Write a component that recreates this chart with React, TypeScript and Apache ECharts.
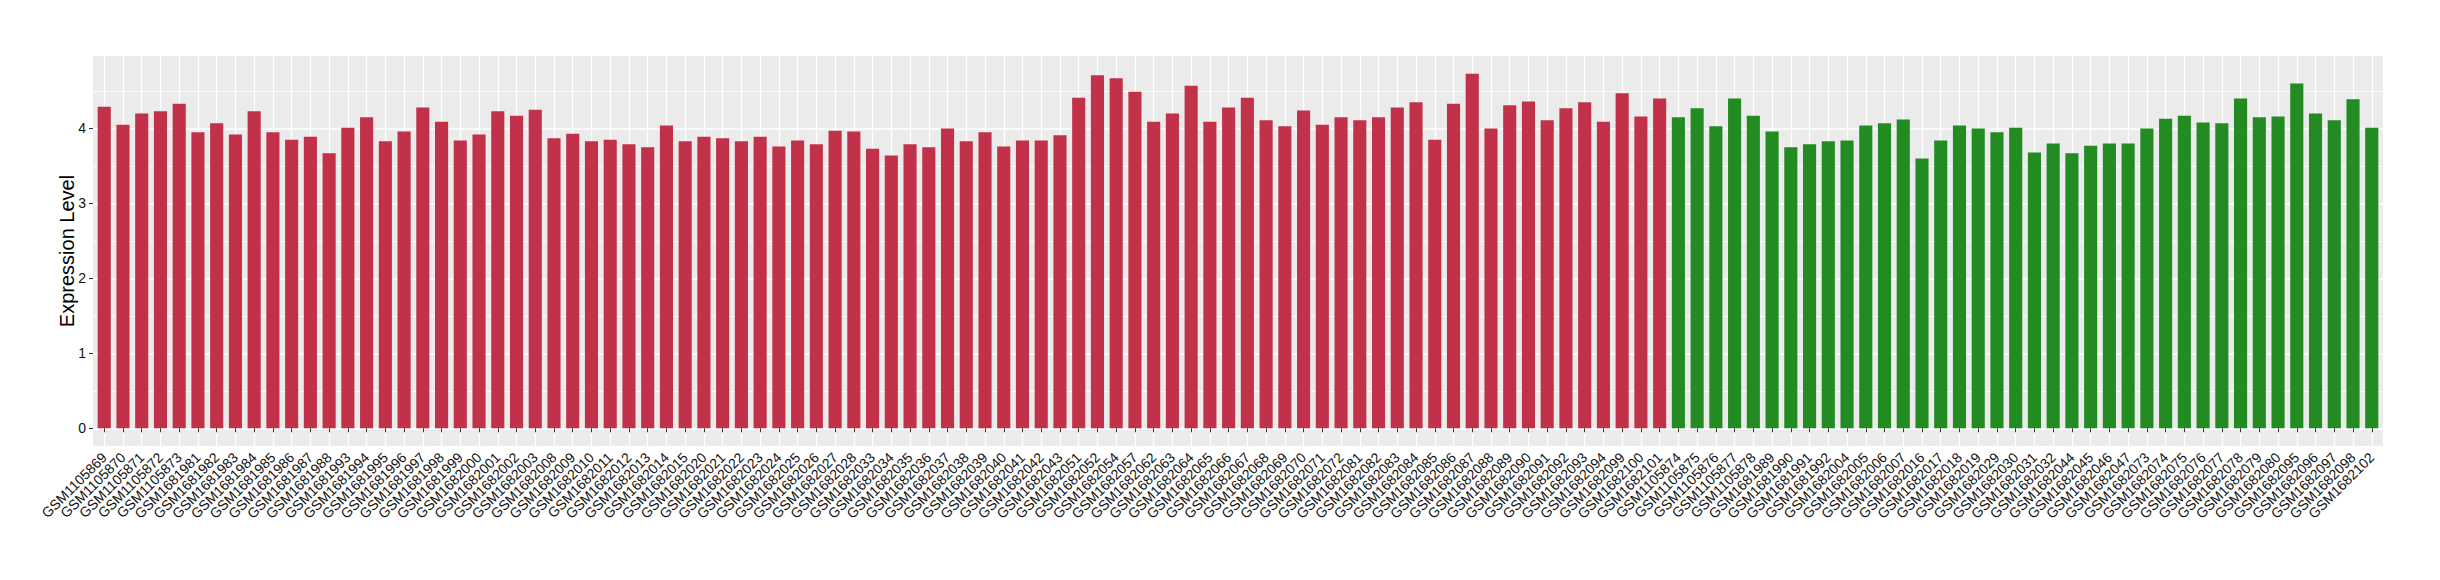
import React, { useEffect, useRef } from "react";
import * as echarts from "echarts";

const redSamples = [
  "GSM1105869", "GSM1105870", "GSM1105871", "GSM1105872", "GSM1105873",
  "GSM1681981", "GSM1681982", "GSM1681983", "GSM1681984", "GSM1681985", "GSM1681986", "GSM1681987", "GSM1681988",
  "GSM1681993", "GSM1681994", "GSM1681995", "GSM1681996", "GSM1681997", "GSM1681998", "GSM1681999",
  "GSM1682000", "GSM1682001", "GSM1682002", "GSM1682003",
  "GSM1682008", "GSM1682009", "GSM1682010", "GSM1682011", "GSM1682012", "GSM1682013", "GSM1682014", "GSM1682015",
  "GSM1682020", "GSM1682021", "GSM1682022", "GSM1682023", "GSM1682024", "GSM1682025", "GSM1682026", "GSM1682027", "GSM1682028",
  "GSM1682033", "GSM1682034", "GSM1682035", "GSM1682036", "GSM1682037", "GSM1682038", "GSM1682039", "GSM1682040", "GSM1682041", "GSM1682042", "GSM1682043",
  "GSM1682051", "GSM1682052", "GSM1682054", "GSM1682057",
  "GSM1682062", "GSM1682063", "GSM1682064", "GSM1682065", "GSM1682066", "GSM1682067", "GSM1682068", "GSM1682069", "GSM1682070", "GSM1682071", "GSM1682072",
  "GSM1682081", "GSM1682082", "GSM1682083", "GSM1682084", "GSM1682085", "GSM1682086", "GSM1682087", "GSM1682088", "GSM1682089", "GSM1682090", "GSM1682091", "GSM1682092", "GSM1682093", "GSM1682094",
  "GSM1682099", "GSM1682100", "GSM1682101",
];

const redValues = [
  4.29, 4.05, 4.20, 4.23, 4.33,
  3.95, 4.07, 3.92, 4.23, 3.95, 3.85, 3.89, 3.67,
  4.01, 4.15, 3.83, 3.96, 4.28, 4.09, 3.84,
  3.92, 4.23, 4.17, 4.25,
  3.87, 3.93, 3.83, 3.85, 3.79, 3.75, 4.04, 3.83,
  3.89, 3.87, 3.83, 3.89, 3.76, 3.84, 3.79, 3.97, 3.96,
  3.73, 3.64, 3.79, 3.75, 4.00, 3.83, 3.95, 3.76, 3.84, 3.84, 3.91,
  4.41, 4.71, 4.67, 4.49,
  4.09, 4.20, 4.57, 4.09, 4.28, 4.41, 4.11, 4.03, 4.24, 4.05, 4.15,
  4.11, 4.15, 4.28, 4.35, 3.85, 4.33, 4.73, 4.00, 4.31, 4.36, 4.11, 4.27, 4.35, 4.09,
  4.47, 4.16, 4.40,
];

const greenSamples = [
  "GSM1105874", "GSM1105875", "GSM1105876", "GSM1105877", "GSM1105878",
  "GSM1681989", "GSM1681990", "GSM1681991", "GSM1681992",
  "GSM1682004", "GSM1682005", "GSM1682006", "GSM1682007",
  "GSM1682016", "GSM1682017", "GSM1682018", "GSM1682019",
  "GSM1682029", "GSM1682030", "GSM1682031", "GSM1682032",
  "GSM1682044", "GSM1682045", "GSM1682046", "GSM1682047",
  "GSM1682073", "GSM1682074", "GSM1682075", "GSM1682076", "GSM1682077", "GSM1682078", "GSM1682079", "GSM1682080",
  "GSM1682095", "GSM1682096", "GSM1682097", "GSM1682098",
  "GSM1682102",
];

const greenValues = [
  4.15, 4.27, 4.03, 4.40, 4.17,
  3.96, 3.75, 3.79, 3.83,
  3.84, 4.04, 4.07, 4.12,
  3.60, 3.84, 4.04, 4.00,
  3.95, 4.01, 3.68, 3.80,
  3.67, 3.77, 3.80, 3.80,
  4.00, 4.13, 4.17, 4.08, 4.07, 4.40, 4.15, 4.16,
  4.60, 4.20, 4.11, 4.39,
  4.01,
];

const yAxisTitle = "Expression Level";
const RED = "#C2314A";
const GREEN = "#228B22";
const FONT = "'Liberation Sans', Arial, Helvetica, sans-serif";

export default function App() {
  const ref = useRef<HTMLDivElement>(null);

  useEffect(() => {
    if (!ref.current) return;
    const chart = echarts.init(ref.current, null, { renderer: "svg" });

    const categories = [...redSamples, ...greenSamples];
    const data = [
      ...redValues.map((v) => ({ value: v, itemStyle: { color: RED } })),
      ...greenValues.map((v) => ({ value: v, itemStyle: { color: GREEN } })),
    ];
    const all = [...redValues, ...greenValues];
    const dMax = Math.max(...all);
    const yMin = -0.05 * dMax;
    const yMax = 1.05 * dMax;

    const W = 2440;
    const H = 580;
    const pL = 93;
    const pR = 2383;
    const pT = 56;
    const pB = 446;
    const py = (v: number) => pT + ((yMax - v) / (yMax - yMin)) * (pB - pT);
    const n = categories.length;
    const band = (pR - pL) / (n - 1 + 1.2);

    const hiddenX = (gi: number) => ({ type: "value", gridIndex: gi, show: false, min: 0, max: 1 });

    chart.setOption({
      animation: false,
      backgroundColor: "#ffffff",
      grid: [
        { left: pL, right: W - pR, top: pT, bottom: H - pB, show: true, backgroundColor: "#EBEBEB", borderWidth: 0 },
        { left: pL + 0.6 * band, right: W - pR + 0.6 * band, top: pT, bottom: H - pB },
        { left: pL, right: W - pR, top: py(4), bottom: H - py(0) },
        { left: pL, right: W - pR, top: py(4.5), bottom: H - py(0.5) },
      ],
      xAxis: [
        hiddenX(0),
        {
          type: "category",
          gridIndex: 1,
          data: categories,
          boundaryGap: false,
          axisLine: { show: false },
          axisTick: { show: true, length: 4, lineStyle: { color: "#333333", width: 1 } },
          axisLabel: { interval: 0, rotate: 45, fontSize: 14, color: "#111111", fontFamily: FONT, margin: 9 },
          splitLine: { show: true, lineStyle: { color: "#ffffff", width: 1.3 } },
        },
        hiddenX(2),
        hiddenX(3),
      ],
      yAxis: [
        {
          type: "value",
          gridIndex: 0,
          min: yMin,
          max: yMax,
          name: yAxisTitle,
          nameLocation: "middle",
          nameGap: 16,
          nameTextStyle: { fontSize: 20, color: "#000000", fontFamily: FONT },
          axisLine: { show: false },
          axisTick: { show: false },
          axisLabel: { show: false },
          splitLine: { show: false },
        },
        { type: "value", gridIndex: 1, min: yMin, max: yMax, show: false },
        {
          type: "value",
          gridIndex: 2,
          min: 0,
          max: 4,
          interval: 1,
          axisLine: { show: false },
          axisTick: { show: true, length: 4, lineStyle: { color: "#333333", width: 1 } },
          axisLabel: { fontSize: 14, color: "#111111", fontFamily: FONT, margin: 7 },
          splitLine: { show: true, lineStyle: { color: "#ffffff", width: 1.5 } },
        },
        {
          type: "value",
          gridIndex: 3,
          min: 0.5,
          max: 4.5,
          interval: 1,
          axisLine: { show: false },
          axisTick: { show: false },
          axisLabel: { show: false },
          splitLine: { show: true, lineStyle: { color: "#ffffff", width: 0.8 } },
        },
      ],
      series: [
        {
          type: "bar",
          xAxisIndex: 1,
          yAxisIndex: 1,
          data,
          barWidth: "70%",
          clip: false,
        },
      ],
    });

    return () => chart.dispose();
  }, []);

  return (
    <div
      ref={ref}
      style={{ position: "fixed", left: 0, top: 0, width: 2440, height: 580, background: "#ffffff" }}
    />
  );
}
